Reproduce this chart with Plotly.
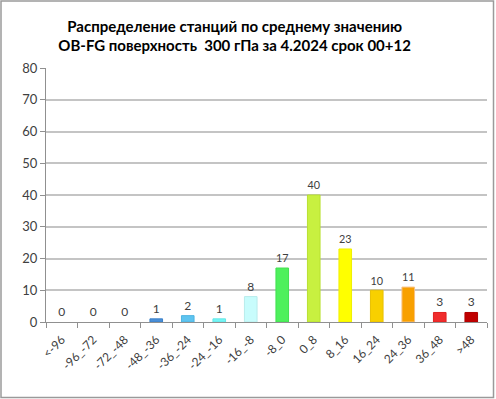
import plotly.graph_objects as go

categories = ["<-96", "-96_-72", "-72_-48", "-48_-36", "-36_-24", "-24_-16", "-16_-8",
              "-8_0", "0_8", "8_16", "16_24", "24_36", "36_48", ">48"]
counts = [0, 0, 0, 1, 2, 1, 8, 17, 40, 23, 10, 11, 3, 3]
bar_colors = ["#4a8fd8", "#4a8fd8", "#4a8fd8", "#4a8fd8", "#5ec4f0", "#74f6f6", "#c8fcfc",
              "#4ef05c", "#c8f040", "#ffff00", "#f8d000", "#f8a000", "#f02c2c", "#c00000"]
line_colors = ["#3a7fc8", "#3a7fc8", "#3a7fc8", "#3a7fc8", "#4eb4e0", "#64e6e6", "#b8ecec",
               "#40e050", "#b8e030", "#f0f000", "#e8c000", "#f8c080", "#e02020", "#b00000"]
y_ticks = [0, 10, 20, 30, 40, 50, 60, 70, 80]
title_text = "Распределение станций по среднему значению<br>OB-FG поверхность  300 гПа за 4.2024 срок 00+12"

font_family = "Lato, 'Open Sans', sans-serif"

fig = go.Figure(go.Bar(
    x=categories, y=counts,
    marker=dict(color=bar_colors, line=dict(color=line_colors, width=[0 if c == 0 else 1 for c in counts])),
    text=[str(c) for c in counts], textposition="outside",
    textfont=dict(size=12, color="#404040", family=font_family),
    cliponaxis=False,
))

fig.update_layout(
    width=496, height=399,
    margin=dict(l=46, r=9, t=68, b=77, autoexpand=False),
    paper_bgcolor="white", plot_bgcolor="white",
    bargap=0.6,
    showlegend=False,
    title=dict(text=title_text, x=0.473, xanchor="center", y=0.92, yanchor="top",
               font=dict(size=15, color="#000000", family=font_family, weight="bold")),
    font=dict(family=font_family, color="#404040"),
)

fig.update_yaxes(range=[0, 80], tickvals=y_ticks, showgrid=True, gridcolor="#c4c4c4", gridwidth=1.5,
                 showline=True, linecolor="#909090", linewidth=1, ticks="outside", ticklen=5,
                 tickcolor="#909090", tickfont=dict(size=13, color="#404040", family=font_family),
                 zeroline=False, automargin=False)
fig.update_xaxes(showline=True, linecolor="#909090", linewidth=1, ticks="outside", ticklen=5,
                 tickcolor="#909090", tickson="boundaries", tickangle=-45, automargin=False,
                 ticklabelstandoff=5,
                 tickfont=dict(size=12, color="#404040", family=font_family))

fig.add_shape(type="rect", xref="paper", yref="paper", x0=-45/441, x1=1 + 6.5/441,
              y0=-75.5/254, y1=1 + 67/254, line=dict(color="#9a9a9a", width=1.5), fillcolor="rgba(0,0,0,0)")

fig.write_html("out.html", config={"displayModeBar": False},
               post_script="document.body.style.margin='0';document.body.style.overflow='hidden';")
